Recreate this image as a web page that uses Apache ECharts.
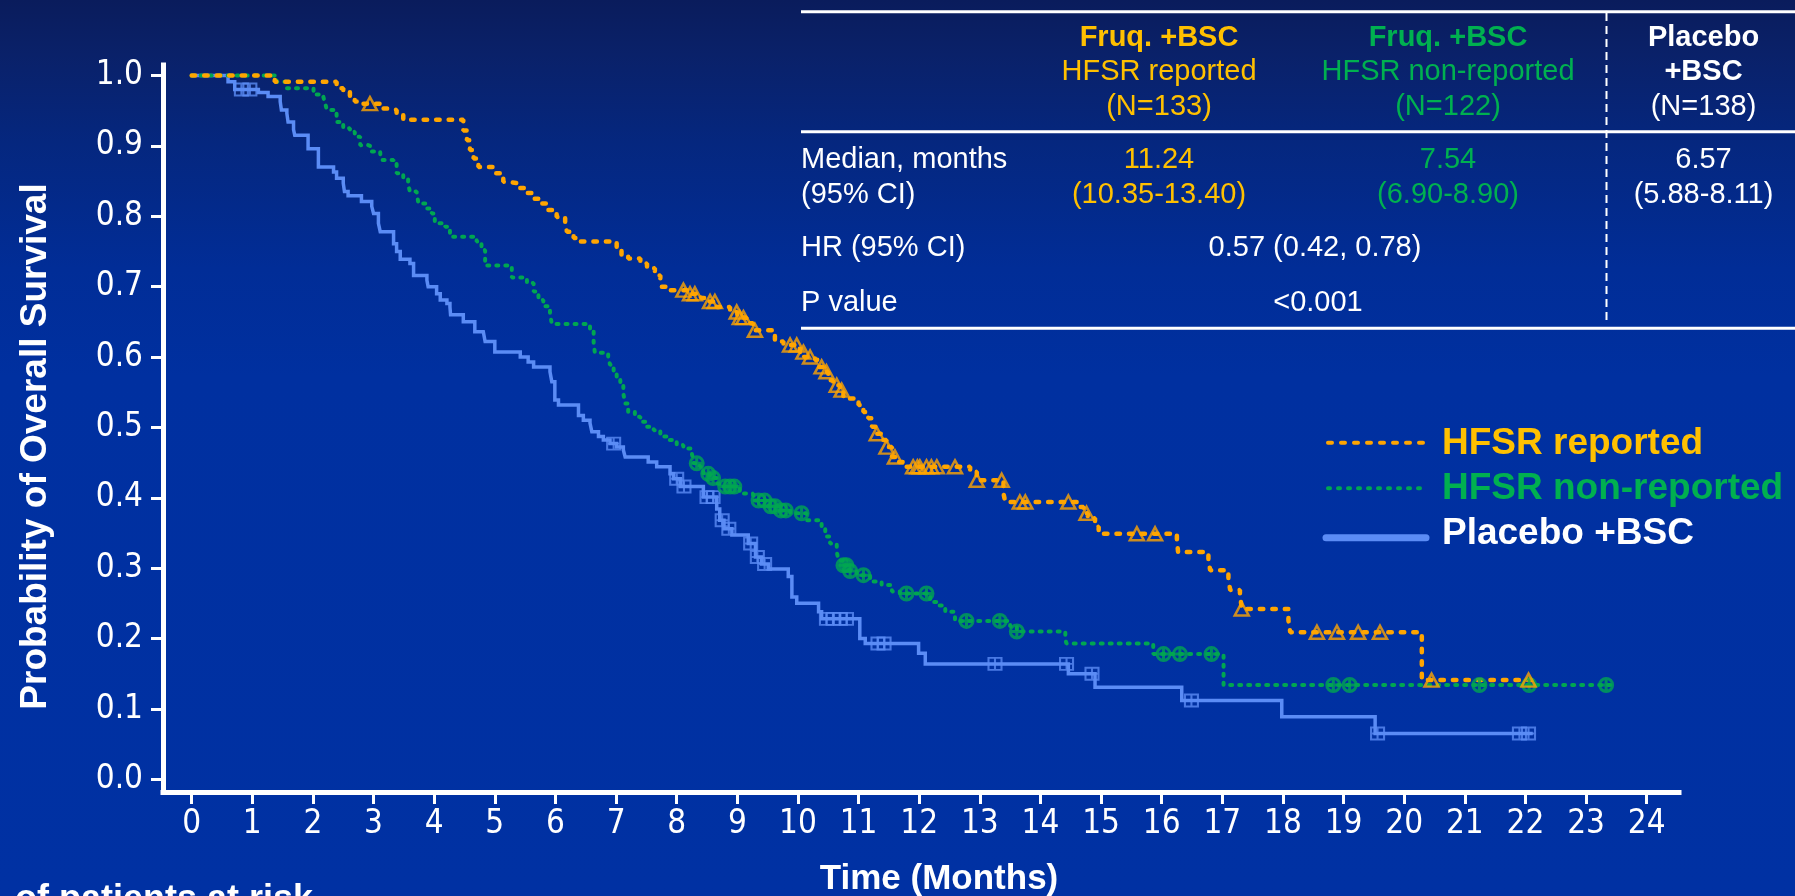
<!DOCTYPE html>
<html><head><meta charset="utf-8">
<script src="https://cdn.jsdelivr.net/npm/echarts@6/dist/echarts.min.js"></script>
<style>html,body{margin:0;padding:0;background:#0030a0;overflow:hidden}#c{width:1795px;height:896px}</style>
</head><body><div id="c"></div>
<script>
// ---------- data ----------
const xTicks = [0,1,2,3,4,5,6,7,8,9,10,11,12,13,14,15,16,17,18,19,20,21,22,23,24];
const yTicks = [0,0.1,0.2,0.3,0.4,0.5,0.6,0.7,0.8,0.9,1.0];

// [month, survival] after each event (Kaplan-Meier steps)
const hfsrReported = [
[0,1.000],[1.37,0.991],[2.39,0.987],[2.45,0.982],[2.50,0.977],[2.61,0.968],[2.69,0.963],[2.80,0.960],[3.11,0.953],[3.22,0.951],[3.38,0.944],[3.49,0.937],[4.48,0.922],[4.54,0.908],[4.59,0.894],[4.65,0.882],[4.73,0.870],[4.98,0.868],[5.00,0.861],[5.14,0.849],[5.20,0.847],[5.39,0.840],[5.53,0.833],[5.64,0.825],[5.77,0.818],[5.88,0.809],[6.02,0.799],[6.16,0.788],[6.19,0.778],[6.30,0.769],[6.41,0.764],[7.01,0.754],[7.09,0.745],[7.20,0.740],[7.40,0.733],[7.51,0.726],[7.64,0.716],[7.73,0.706],[7.75,0.700],[7.89,0.695],[8.20,0.690],[8.40,0.684],[8.50,0.679],[8.66,0.671],[8.88,0.664],[9.00,0.656],[9.15,0.648],[9.26,0.638],[9.62,0.622],[9.76,0.617],[10.03,0.607],[10.10,0.600],[10.28,0.596],[10.34,0.586],[10.42,0.579],[10.50,0.567],[10.58,0.560],[10.69,0.553],[10.75,0.541],[11.00,0.532],[11.08,0.522],[11.16,0.513],[11.22,0.501],[11.30,0.491],[11.38,0.482],[11.46,0.472],[11.55,0.458],[11.63,0.451],[11.79,0.444],[12.84,0.437],[12.95,0.425],[13.39,0.406],[13.42,0.394],[14.65,0.387],[14.71,0.378],[14.78,0.371],[14.90,0.359],[14.96,0.349],[16.25,0.340],[16.27,0.323],[16.77,0.311],[16.80,0.297],[17.10,0.283],[17.13,0.269],[17.29,0.264],[17.32,0.242],[18.09,0.226],[18.12,0.209],[20.29,0.145],[20.34,0.141],[22.12,0.141]
];
const hfsrReportedCensor = [2.94,8.11,8.22,8.30,8.55,8.63,8.99,9.04,9.10,9.29,9.87,9.98,10.09,10.20,10.39,10.47,10.64,10.72,11.30,11.46,11.60,11.90,11.97,12.01,12.12,12.20,12.29,12.59,12.95,13.36,13.66,13.75,14.46,14.76,15.59,15.89,17.32,18.56,18.89,19.24,19.60,20.45,22.05];

const hfsrNonReported = [
[0,1.000],[1.40,0.991],[1.57,0.982],[2.01,0.977],[2.06,0.973],[2.17,0.970],[2.20,0.961],[2.23,0.951],[2.34,0.946],[2.39,0.934],[2.50,0.925],[2.61,0.920],[2.69,0.913],[2.78,0.901],[2.91,0.899],[2.97,0.892],[3.11,0.889],[3.13,0.880],[3.33,0.875],[3.38,0.861],[3.49,0.854],[3.57,0.845],[3.60,0.835],[3.71,0.833],[3.74,0.818],[3.88,0.811],[3.96,0.804],[4.01,0.790],[4.18,0.785],[4.26,0.771],[4.70,0.764],[4.78,0.752],[4.84,0.730],[5.28,0.713],[5.53,0.705],[5.64,0.693],[5.72,0.681],[5.80,0.672],[5.91,0.662],[5.94,0.647],[6.57,0.639],[6.63,0.620],[6.65,0.606],[6.87,0.601],[6.90,0.589],[6.96,0.577],[7.01,0.568],[7.07,0.560],[7.12,0.548],[7.15,0.534],[7.20,0.522],[7.31,0.515],[7.40,0.508],[7.51,0.501],[7.62,0.496],[7.73,0.487],[7.84,0.482],[8.00,0.475],[8.11,0.470],[8.25,0.463],[8.28,0.449],[8.38,0.444],[8.44,0.434],[8.55,0.428],[8.66,0.420],[8.71,0.416],[9.04,0.406],[9.26,0.396],[9.50,0.388],[9.70,0.382],[9.87,0.378],[10.14,0.368],[10.39,0.359],[10.45,0.345],[10.53,0.335],[10.64,0.323],[10.67,0.311],[10.75,0.304],[10.85,0.296],[10.97,0.290],[11.19,0.281],[11.38,0.276],[11.55,0.267],[11.68,0.264],[12.18,0.252],[12.32,0.247],[12.43,0.238],[12.59,0.225],[13.50,0.217],[13.61,0.210],[14.41,0.198],[14.43,0.193],[15.86,0.178],[17.02,0.134],[23.40,0.134]
];
const hfsrNonReportedCensor = [8.33,8.52,8.60,8.80,8.88,8.95,9.35,9.45,9.55,9.62,9.72,9.80,10.06,10.75,10.80,10.86,11.08,11.79,12.12,12.78,13.33,13.61,16.03,16.30,16.82,18.83,19.10,21.24,22.06,23.33];

const placebo = [
[0,1.000],[0.60,0.991],[0.71,0.980],[1.10,0.976],[1.26,0.970],[1.46,0.963],[1.48,0.951],[1.57,0.946],[1.59,0.934],[1.68,0.923],[1.70,0.915],[1.92,0.896],[2.09,0.870],[2.34,0.863],[2.39,0.854],[2.50,0.847],[2.52,0.835],[2.58,0.829],[2.80,0.821],[2.97,0.814],[3.00,0.804],[3.08,0.790],[3.11,0.778],[3.33,0.761],[3.38,0.750],[3.44,0.739],[3.60,0.733],[3.66,0.716],[3.88,0.709],[3.90,0.700],[4.04,0.690],[4.10,0.681],[4.21,0.676],[4.26,0.671],[4.27,0.660],[4.48,0.650],[4.67,0.636],[4.81,0.634],[4.84,0.622],[5.00,0.607],[5.42,0.600],[5.55,0.593],[5.64,0.586],[5.91,0.579],[5.94,0.565],[5.99,0.539],[6.05,0.532],[6.38,0.517],[6.46,0.510],[6.57,0.506],[6.60,0.494],[6.71,0.487],[6.79,0.482],[6.90,0.477],[7.01,0.472],[7.12,0.468],[7.15,0.458],[7.53,0.451],[7.67,0.444],[7.89,0.434],[7.95,0.427],[8.06,0.416],[8.44,0.401],[8.66,0.384],[8.71,0.368],[8.78,0.356],[8.91,0.347],[9.18,0.335],[9.30,0.316],[9.40,0.306],[9.51,0.299],[9.84,0.288],[9.90,0.259],[9.98,0.250],[10.34,0.238],[10.39,0.228],[11.02,0.200],[11.11,0.193],[11.99,0.179],[12.10,0.164],[14.46,0.150],[14.90,0.131],[16.33,0.112],[17.98,0.089],[19.52,0.065],[22.12,0.065]
];
const placeboCensor = [0.82,0.96,6.96,8.00,8.12,8.50,8.60,8.75,8.86,9.22,9.33,9.45,10.47,10.58,10.70,10.80,11.32,11.42,13.25,14.43,14.85,16.49,19.56,21.90,22.05];

// ---------- helpers ----------
function survAt(curve, t) {
  let s = curve[0][1];
  for (const p of curve) { if (p[0] <= t) s = p[1]; else break; }
  return s;
}
function censorPoints(curve, times) { return times.map(t => [t, survAt(curve, t)]); }

const ORANGE_LINE = '#FFA500', GREEN_LINE = '#00A651', BLUE_LINE = '#5B8CF5';
const ORANGE_TXT = '#FFC000', GREEN_TXT = '#00B050', WHITE = '#FFFFFF';
const NARROW = "'Liberation Sans Narrow','DejaVu Sans Condensed','Roboto Condensed',sans-serif";
const SANS = "'Liberation Sans',Arial,Helvetica,sans-serif";

const chart = echarts.init(document.getElementById('c'), null, {renderer: 'canvas', width: 1795, height: 896});

function txt(x, y, text, color, size, bold, align) {
  return { type: 'text', x: x, y: y, silent: true, z: 10,
    style: { text: text, fill: color, font: (bold ? 'bold ' : '') + size + 'px ' + SANS,
      align: align || 'center', verticalAlign: 'middle', textAlign: align || 'center', textVerticalAlign: 'middle' } };
}
function hline(x1, y1, x2, y2, color, w, dash, cap) {
  return { type: 'line', silent: true, z: 10, shape: {x1: x1, y1: y1, x2: x2, y2: y2},
    style: { stroke: color, lineWidth: w, lineDash: dash || null, lineCap: cap || 'butt' } };
}

const graphics = [
  { type: 'rect', z: -100, silent: true, shape: {x: 0, y: 0, width: 1795, height: 896},
    style: { fill: new echarts.graphic.LinearGradient(0, 0, 0, 1, [
      {offset: 0, color: '#0a1c5c'}, {offset: 0.06, color: '#0a2169'}, {offset: 0.16, color: '#05277f'},
      {offset: 0.3, color: '#012d97'}, {offset: 0.42, color: '#0030a0'}, {offset: 1, color: '#0031a3'}]) } },
  // table rules
  hline(801, 11.7, 1795, 11.7, WHITE, 3),
  hline(801, 131.7, 1795, 131.7, WHITE, 3),
  hline(801, 328.3, 1795, 328.3, WHITE, 3),
  hline(1606.5, 13, 1606.5, 322, WHITE, 2, [8, 5]),
  // table header
  txt(1159, 37.7, 'Fruq. +BSC', ORANGE_TXT, 29, true),
  txt(1159, 72, 'HFSR reported', ORANGE_TXT, 29, false),
  txt(1159, 106.7, '(N=133)', ORANGE_TXT, 29, false),
  txt(1448, 37.7, 'Fruq. +BSC', GREEN_TXT, 29, true),
  txt(1448, 72, 'HFSR non-reported', GREEN_TXT, 29, false),
  txt(1448, 106.7, '(N=122)', GREEN_TXT, 29, false),
  txt(1703.5, 37.7, 'Placebo', WHITE, 29, true),
  txt(1703.5, 72, '+BSC', WHITE, 29, true),
  txt(1703.5, 106.7, '(N=138)', WHITE, 29, false),
  // table rows
  txt(801, 160, 'Median, months', WHITE, 29, false, 'left'),
  txt(801, 195, '(95% CI)', WHITE, 29, false, 'left'),
  txt(1159, 160, '11.24', ORANGE_TXT, 29, false),
  txt(1159, 195, '(10.35-13.40)', ORANGE_TXT, 29, false),
  txt(1448, 160, '7.54', GREEN_TXT, 29, false),
  txt(1448, 195, '(6.90-8.90)', GREEN_TXT, 29, false),
  txt(1703.5, 160, '6.57', WHITE, 29, false),
  txt(1703.5, 195, '(5.88-8.11)', WHITE, 29, false),
  txt(801, 248, 'HR (95% CI)', WHITE, 29, false, 'left'),
  txt(1315, 248, '0.57 (0.42, 0.78)', WHITE, 29, false),
  txt(801, 303, 'P value', WHITE, 29, false, 'left'),
  txt(1318, 303, '<0.001', WHITE, 29, false),
  // legend
  hline(1328, 442.7, 1424, 442.7, ORANGE_LINE, 4, [4, 9], 'round'),
  hline(1328, 488.3, 1422, 488.3, GREEN_LINE, 4, [2, 8], 'round'),
  hline(1326, 537.7, 1426, 537.7, BLUE_LINE, 7, null, 'round'),
  txt(1442, 444.2, 'HFSR reported', ORANGE_TXT, 37, true, 'left'),
  txt(1442, 488.9, 'HFSR non-reported', GREEN_TXT, 37, true, 'left'),
  txt(1442, 533.9, 'Placebo +BSC', WHITE, 37, true, 'left'),
  // axis titles
  txt(939, 879, 'Time (Months)', WHITE, 35, true),
  { type: 'text', x: 36, y: 446.5, rotation: Math.PI / 2, silent: true, z: 10,
    style: { text: 'Probability of Overall Survival', fill: WHITE, font: 'bold 37px ' + SANS,
      align: 'center', verticalAlign: 'middle', textAlign: 'center', textVerticalAlign: 'middle' } },
  txt(313, 900, 'No. of patients at risk', WHITE, 36, true, 'right')
];

const option = {
  animation: false,
  backgroundColor: 'transparent',
  grid: { left: 163, right: 116, top: 65, bottom: 104, containLabel: false },
  xAxis: {
    type: 'value', min: -0.473, max: 24.532,
    axisLine: { show: true, onZero: false, lineStyle: { color: WHITE, width: 5, cap: 'square' } },
    axisTick: { show: true, customValues: xTicks, length: 12, lineStyle: { color: WHITE, width: 3 } },
    axisLabel: { show: true, customValues: xTicks, margin: 16, color: WHITE, fontSize: 33, fontFamily: NARROW,
      formatter: v => String(Math.round(v)) },
    splitLine: { show: false }
  },
  yAxis: {
    type: 'value', min: -0.018, max: 1.0149,
    axisLine: { show: true, onZero: false, lineStyle: { color: WHITE, width: 5, cap: 'square' } },
    axisTick: { show: true, customValues: yTicks, length: 12, lineStyle: { color: WHITE, width: 3 } },
    axisLabel: { show: true, customValues: yTicks, margin: 20, color: WHITE, fontSize: 33, fontFamily: NARROW,
      formatter: v => v.toFixed(1) },
    splitLine: { show: false }
  },
  graphic: { elements: graphics },
  series: [
    { name: 'Placebo +BSC', type: 'line', step: 'end', data: placebo, showSymbol: false, silent: true, z: 3,
      lineStyle: { color: BLUE_LINE, width: 3.5, join: 'miter' } },
    { name: 'HFSR non-reported', type: 'line', step: 'end', data: hfsrNonReported, showSymbol: false, silent: true, z: 4,
      lineStyle: { color: GREEN_LINE, width: 4, type: [2, 7], cap: 'round' } },
    { name: 'HFSR reported', type: 'line', step: 'end', data: hfsrReported, showSymbol: false, silent: true, z: 5,
      lineStyle: { color: ORANGE_LINE, width: 4.5, type: [3.5, 9], cap: 'round' } },
    { name: 'Placebo censored', type: 'scatter', data: censorPoints(placebo, placeboCensor), silent: true, z: 6,
      symbol: 'path://M0,0 L10,0 L10,10 L0,10 Z M0,5 L10,5 M5,0 L5,10', symbolSize: [13, 12],
      itemStyle: { color: 'rgba(0,0,0,0)', borderColor: BLUE_LINE, borderWidth: 2 } },
    { name: 'Non-reported censored', type: 'scatter', data: censorPoints(hfsrNonReported, hfsrNonReportedCensor), silent: true, z: 6,
      symbol: 'path://M5,0 A5,5 0 1 1 5,10 A5,5 0 1 1 5,0 Z M0,5 L10,5 M5,0 L5,10', symbolSize: 13,
      itemStyle: { color: 'rgba(0,0,0,0)', borderColor: GREEN_LINE, borderWidth: 3 } },
    { name: 'Reported censored', type: 'scatter', data: censorPoints(hfsrReported, hfsrReportedCensor), silent: true, z: 7,
      symbol: 'triangle', symbolSize: [14, 13],
      itemStyle: { color: 'rgba(0,0,0,0)', borderColor: ORANGE_LINE, borderWidth: 2.5 } }
  ]
};
chart.setOption(option);
</script>
</body></html>
